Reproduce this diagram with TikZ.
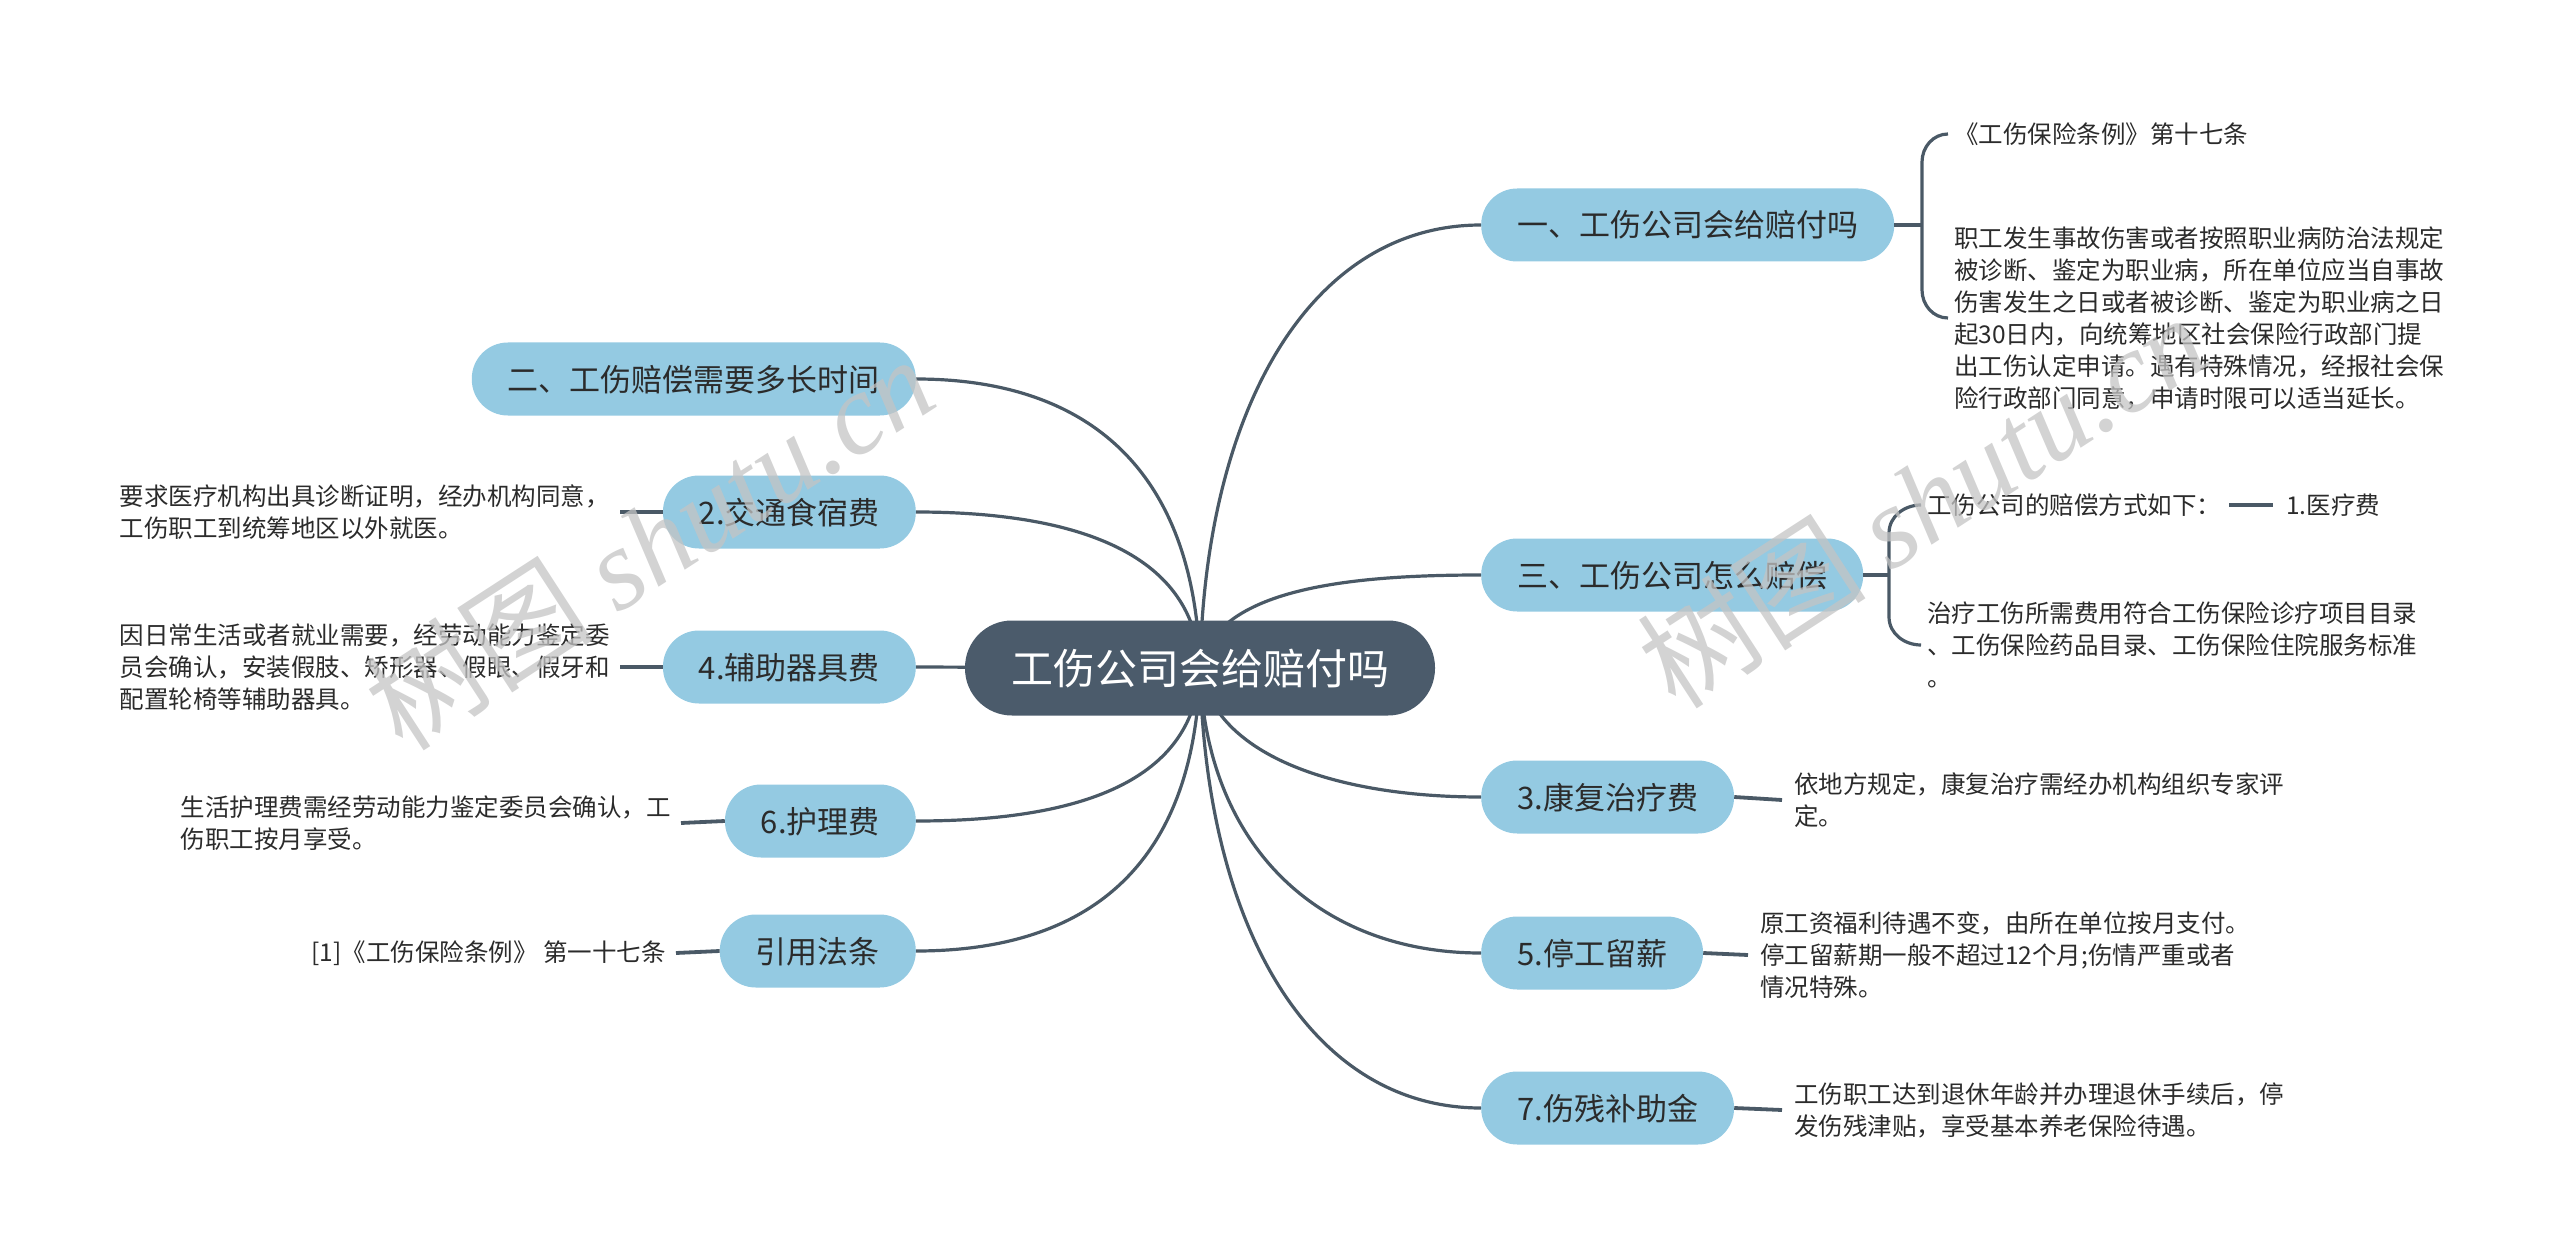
\documentclass[tikz,border=0pt]{standalone}
\usepackage{fontspec}
\setmainfont{Noto Sans CJK SC}
\newfontfamily\cjk{Noto Sans CJK SC}
\newfontfamily\wmfont{Liberation Serif}
\usetikzlibrary{backgrounds}
\definecolor{lineC}{HTML}{4A5966}
\definecolor{nodeC}{HTML}{94CAE2}
\definecolor{rootC}{HTML}{4B5B6B}
\definecolor{txtC}{HTML}{2B2B2B}
\definecolor{wmC}{HTML}{C4C4C4}
\tikzset{
  root/.style={rounded corners=47pt, fill=rootC, text=white,
    font=\fontsize{42}{50}\selectfont, minimum height=95pt, minimum width=470pt,
    inner ysep=0pt, text height=33pt, text depth=0pt},
  sub/.style={rounded corners=36pt, fill=nodeC, text=txtC,
    font=\fontsize{31}{36}\selectfont, minimum height=73pt,
    inner xsep=36pt, inner ysep=0pt, text height=24pt, text depth=0pt},
  leaf/.style={font=\fontsize{24.5}{32}\selectfont, align=left, text=txtC,
    inner xsep=12pt, inner ysep=0pt},
  conn/.style={draw=lineC, line width=3.2pt},
  lconn/.style={draw=lineC, line width=3.8pt},
  wm/.style={text=wmC, opacity=0.75, inner sep=0pt}
}
\begin{document}
\begin{tikzpicture}[x=1pt,y=-1pt]
\useasboundingbox (0,0) rectangle (2560,1257);
% root
\node[root] (c) at (1200,668) {工伤公司会给赔付吗};
% right main topics
\node[sub, anchor=west] (n1) at (1481,225) {一、工伤公司会给赔付吗};
\node[sub, anchor=west] (n3) at (1481,575) {三、工伤公司怎么赔偿};
\node[sub, anchor=west] (k3) at (1481,797) {3.康复治疗费};
\node[sub, anchor=west] (k5) at (1481,953) {5.停工留薪};
\node[sub, anchor=west] (k7) at (1481,1108) {7.伤残补助金};
% left main topics
\node[sub, anchor=east] (n2) at (916,379) {二、工伤赔偿需要多长时间};
\node[sub, anchor=east] (k2) at (916,512) {2.交通食宿费};
\node[sub, anchor=east] (k4) at (916,667) {4.辅助器具费};
\node[sub, anchor=east] (k6) at (916,821) {6.护理费};
\node[sub, anchor=east] (ref) at (916,951) {引用法条};
% leaves of n1
\node[leaf, anchor=west, inner xsep=0pt] (t1) at (1954,134) {《工伤保险条例》第十七条};
\node[leaf, anchor=west, inner xsep=0pt] (p1) at (1954,318) {职工发生事故伤害或者按照职业病防治法规定\\被诊断、鉴定为职业病，所在单位应当自事故\\伤害发生之日或者被诊断、鉴定为职业病之日\\起30日内，向统筹地区社会保险行政部门提\\出工伤认定申请。遇有特殊情况，经报社会保\\险行政部门同意，申请时限可以适当延长。};
\coordinate (b1) at (1922,225);
% leaves of n3
\node[leaf, anchor=west, inner xsep=0pt] (t3) at (1927,505) {工伤公司的赔偿方式如下：};
\node[leaf, anchor=west, inner xsep=0pt] (m3) at (2286,505) {1.医疗费};
\node[leaf, anchor=west, inner xsep=0pt] (p3) at (1927,645) {治疗工伤所需费用符合工伤保险诊疗项目目录\\、工伤保险药品目录、工伤保险住院服务标准\\。};
\coordinate (b3) at (1889,575);
% right leaves
\node[leaf, anchor=west] (l3) at (1782,800) {依地方规定，康复治疗需经办机构组织专家评\\定。};
\node[leaf, anchor=west] (l5) at (1748,955) {原工资福利待遇不变，由所在单位按月支付。\\停工留薪期一般不超过12个月;伤情严重或者\\情况特殊。};
\node[leaf, anchor=west] (l7) at (1782,1110) {工伤职工达到退休年龄并办理退休手续后，停\\发伤残津贴，享受基本养老保险待遇。};
% left leaves
\node[leaf, anchor=east, inner xsep=10pt] (l2) at (620,512) {要求医疗机构出具诊断证明，经办机构同意，\\工伤职工到统筹地区以外就医。};
\node[leaf, anchor=east, inner xsep=10pt] (l4) at (620,667) {因日常生活或者就业需要，经劳动能力鉴定委\\员会确认，安装假肢、矫形器、假眼、假牙和\\配置轮椅等辅助器具。};
\node[leaf, anchor=east, inner xsep=10pt] (l6) at (681,823) {生活护理费需经劳动能力鉴定委员会确认，工\\伤职工按月享受。};
\node[leaf, anchor=east, inner xsep=10pt] (lr) at (676,953) {[1]《工伤保险条例》 第一十七条};
% main connectors
\begin{scope}[on background layer]
\draw[conn] (c.center) .. controls +(5,-260) and +(-170,0) .. (n1.west);
\draw[conn] (c.center) .. controls +(15,-80) and +(-130,0) .. (n3.west);
\draw[conn] (c.center) .. controls +(15,90) and +(-140,0) .. (k3.west);
\draw[conn] (c.center) .. controls +(5,180) and +(-160,0) .. (k5.west);
\draw[conn] (c.center) .. controls +(5,260) and +(-170,0) .. (k7.west);
\draw[conn] (c.center) .. controls +(-5,-200) and +(170,0) .. (n2.east);
\draw[conn] (c.center) .. controls +(-5,-120) and +(150,0) .. (k2.east);
\draw[conn] (c.center) -- (k4.east);
\draw[conn] (c.center) .. controls +(-5,120) and +(150,0) .. (k6.east);
\draw[conn] (c.center) .. controls +(-5,200) and +(170,0) .. (ref.east);
\end{scope}
% brackets
\draw[conn] (n1.east) -- (b1);
\draw[conn] ([xshift=-6pt]t1.west) to[out=180,in=90] ([xshift=-32pt,yshift=-28pt]t1.west) -- ([xshift=-32pt,yshift=28pt]p1.west) to[out=-90,in=180] ([xshift=-6pt]p1.west);
\draw[conn] (n3.east) -- (b3);
\draw[conn] ([xshift=-6pt]t3.west) to[out=180,in=90] ([xshift=-38pt,yshift=-28pt]t3.west) -- ([xshift=-38pt,yshift=28pt]p3.west) to[out=-90,in=180] ([xshift=-6pt]p3.west);
\draw[lconn, shorten <=8pt, shorten >=13pt] (t3.east) -- (m3.west);
% leaf connectors
\draw[lconn] (k3.east) -- (l3.west);
\draw[lconn] (k5.east) -- (l5.west);
\draw[lconn] (k7.east) -- (l7.west);
\draw[lconn] (k2.west) -- (l2.east);
\draw[lconn] (k4.west) -- (l4.east);
\draw[lconn] (k6.west) -- (l6.east);
\draw[lconn] (ref.west) -- (lr.east);
% watermarks
\node[wm, rotate=33] (wm1) at (649,542) {\fontsize{115}{120}\selectfont{\cjk 树图} {\wmfont\itshape shutu.cn}};
\node[wm, rotate=33] (wm2) at (1922,500) {\fontsize{115}{120}\selectfont{\cjk 树图} {\wmfont\itshape shutu.cn}};
\end{tikzpicture}
\end{document}
